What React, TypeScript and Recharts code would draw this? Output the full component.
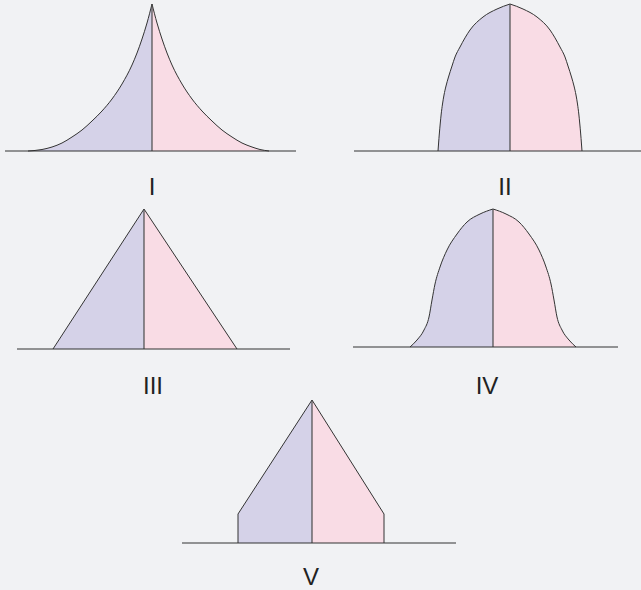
import { Area, ComposedChart, ReferenceLine, XAxis, YAxis } from 'recharts'

// half-profiles: [offset from centre, height]
const shapeILeft = [[-124, 0], [-110, 1.5], [-100, 4], [-90, 8], [-80, 14], [-70, 21], [-60, 30], [-50, 40], [-40, 52], [-30, 67], [-20, 86], [-15, 98], [-10, 112], [-5, 128], [0, 147]]
const shapeIRight = [[0, 147], [5, 128], [10, 112], [15, 98], [20, 86], [30, 67], [40, 52], [50, 40], [60, 30], [70, 21], [80, 14], [90, 8], [100, 4], [108, 1.5], [117, 0]]
const shapeIILeft = [[-72, 0], [-71.4, 8], [-70.7, 17], [-69.8, 27], [-68.8, 37], [-67.5, 47], [-66, 56], [-64, 65], [-61.5, 74], [-58, 85], [-55, 94], [-50, 104], [-40, 121], [-27, 134], [-13, 142], [0, 147]]
const shapeIIRight = [[0, 147], [13, 142], [27, 134], [40, 121], [50, 104], [55, 94], [58, 85], [61.5, 74], [64, 65], [66, 56], [67.5, 47], [68.8, 37], [69.8, 27], [70.7, 17], [71.4, 8], [72, 0]]
const shapeIIILeft = [[-91, 0], [0, 140]]
const shapeIIIRight = [[0, 140], [93, 0]]
const shapeIVLeft = [[-83, 0], [-76, 7], [-69, 17], [-64, 30], [-61, 47], [-58, 63], [-53, 80], [-46, 97], [-36, 113], [-26, 125], [-13, 133], [0, 138]]
const shapeIVRight = [[0, 138], [13, 133], [26, 125], [36, 113], [46, 97], [53, 80], [58, 63], [61, 47], [64, 30], [69, 17], [76, 7], [83, 0]]
const shapeVLeft = [[-74, 0], [-74, 29], [0, 143]]
const shapeVRight = [[0, 143], [72, 29], [72, 0]]
const labels = ['I', 'II', 'III', 'IV', 'V']

const palette = { bg: '#f1f2f4', male: '#d5d2e8', female: '#f9dce5', line: '#333333', text: '#222222' }
const PAD = 3

type Pts = number[][]

function Panel({ left, right, center, xMin, xMax, baseY, curve }: { left: Pts; right: Pts; center: number; xMin: number; xMax: number; baseY: number; curve: 'monotone' | 'linear' }) {
  const data = [...left.map(([x, v]) => ({ x, left: v })), ...right.map(([x, v]) => ({ x, right: v }))]
  const peak = Math.max(...left.map((p) => p[1]), ...right.map((p) => p[1]))
  return (
    <div style={{ position: 'absolute', left: center + xMin, top: baseY - peak - PAD }}>
      <ComposedChart width={xMax - xMin} height={peak + 2 * PAD} data={data} margin={{ top: PAD, right: 0, bottom: PAD, left: 0 }}>
        <XAxis type="number" dataKey="x" domain={[xMin, xMax]} hide />
        <YAxis type="number" domain={[0, peak]} hide />
        <Area dataKey="left" type={curve} fill={palette.male} fillOpacity={1} stroke={palette.line} strokeWidth={1} isAnimationActive={false} />
        <Area dataKey="right" type={curve} fill={palette.female} fillOpacity={1} stroke={palette.line} strokeWidth={1} isAnimationActive={false} />
        <ReferenceLine x={0} stroke="#4a4a4a" strokeWidth={1.2} />
        <ReferenceLine y={0} stroke={palette.line} strokeWidth={1.2} />
      </ComposedChart>
    </div>
  )
}

function Caption({ text, x, baseY }: { text: string; x: number; baseY: number }) {
  return (
    <div
      style={{
        position: 'absolute',
        left: x,
        top: baseY - 20,
        transform: 'translateX(-50%)',
        fontFamily: '"Liberation Sans", Arial, sans-serif',
        fontSize: 24,
        lineHeight: '24px',
        color: palette.text,
        whiteSpace: 'nowrap',
      }}
    >
      {text}
    </div>
  )
}

export default function App() {
  return (
    <div style={{ position: 'absolute', left: 0, top: 0, width: 641, height: 590, background: palette.bg, overflow: 'hidden' }}>
      <Panel left={shapeILeft} right={shapeIRight} center={152} xMin={-147} xMax={144} baseY={151} curve="monotone" />
      <Panel left={shapeIILeft} right={shapeIIRight} center={510} xMin={-156} xMax={131} baseY={151} curve="monotone" />
      <Panel left={shapeIIILeft} right={shapeIIIRight} center={144} xMin={-127} xMax={146} baseY={349} curve="linear" />
      <Panel left={shapeIVLeft} right={shapeIVRight} center={493} xMin={-140} xMax={125} baseY={347} curve="monotone" />
      <Panel left={shapeVLeft} right={shapeVRight} center={312} xMin={-130} xMax={144} baseY={543} curve="linear" />
      <Caption text={labels[0]} x={152} baseY={195} />
      <Caption text={labels[1]} x={505} baseY={195} />
      <Caption text={labels[2]} x={153} baseY={394} />
      <Caption text={labels[3]} x={487} baseY={394} />
      <Caption text={labels[4]} x={311} baseY={585} />
    </div>
  )
}
